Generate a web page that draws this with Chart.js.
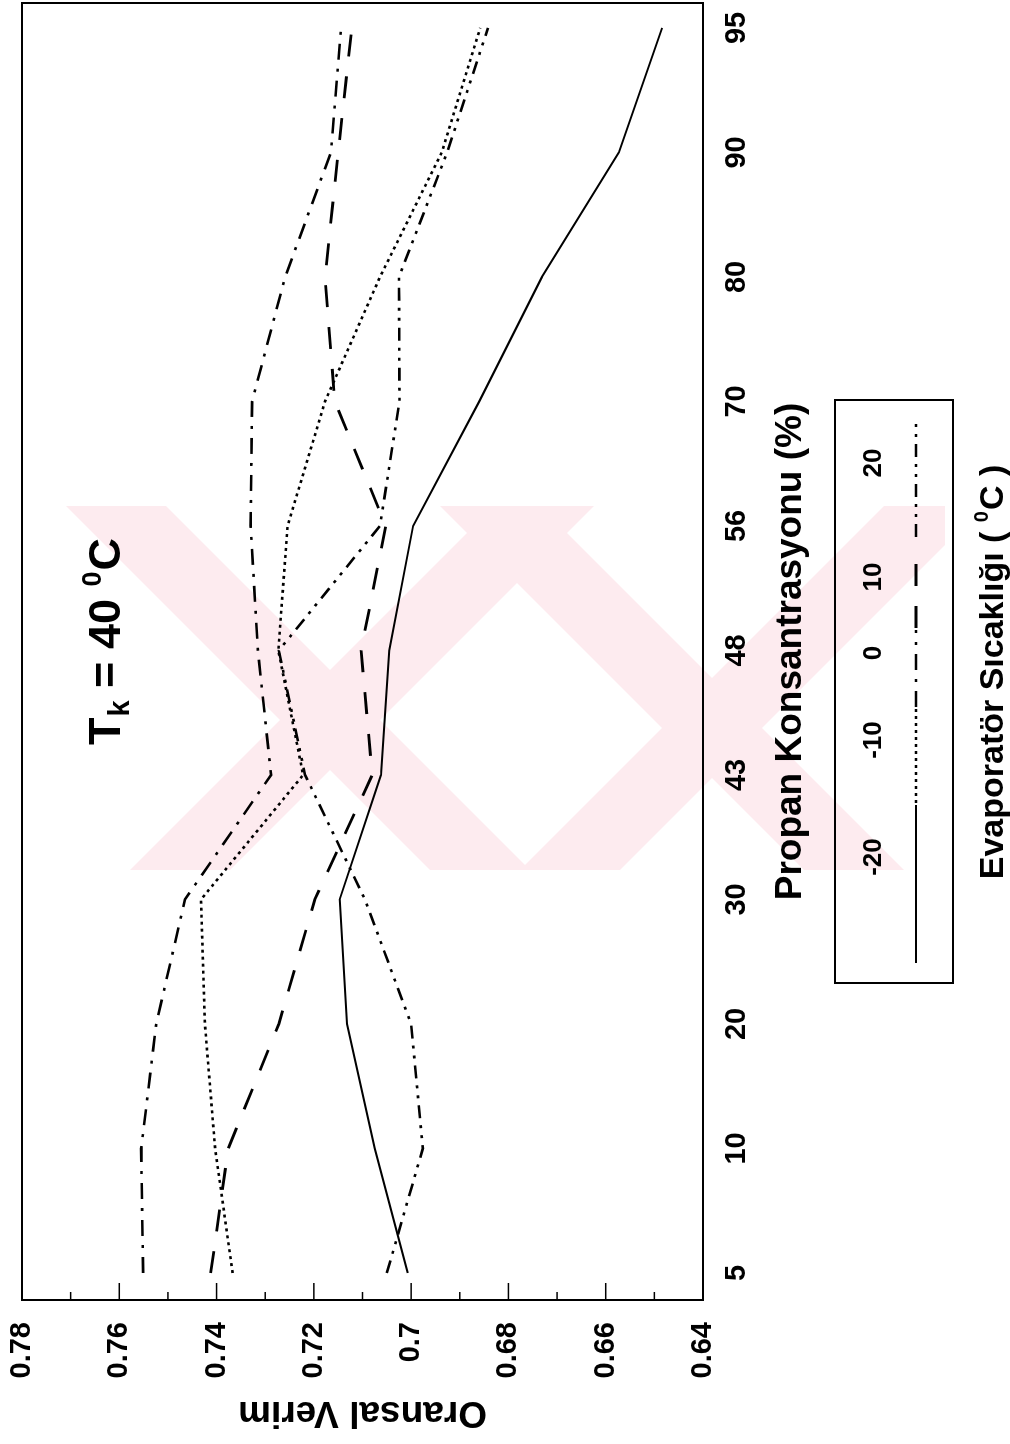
<!DOCTYPE html>
<html><head><meta charset="utf-8">
<script src="https://cdn.jsdelivr.net/npm/chart.js@4.4.0/dist/chart.umd.min.js"></script>
<style>
html,body{margin:0;padding:0;background:#fff;width:1010px;height:1444px;overflow:hidden;}
#wrap{position:absolute;left:0;top:0;width:1444px;height:1010px;transform-origin:0 0;transform:translateY(1444px) rotate(-90deg);}
canvas{display:block;background:#fff;}
</style></head><body>
<div id="wrap"><canvas id="c" width="1444" height="1010"></canvas></div>
<script>
// ---- data ----
const categories = ['5','10','20','30','43','48','56','70','80','90','95'];
const seriesLabels = ['-20','-10','0','10','20'];
const evapM20 = [0.7007, 0.7075, 0.7132, 0.7147, 0.7062, 0.7045, 0.6996, 0.6860, 0.6731, 0.6573, 0.6484];
const evapM10 = [0.7367, 0.7403, 0.7424, 0.7432, 0.7222, 0.7273, 0.7254, 0.7177, 0.7064, 0.6937, 0.6858];
const evap0   = [0.7551, 0.7555, 0.7524, 0.7465, 0.7288, 0.7315, 0.7330, 0.7327, 0.7259, 0.7165, 0.7144];
const evap10  = [0.7412, 0.7376, 0.7272, 0.7198, 0.7080, 0.7103, 0.7052, 0.7157, 0.7177, 0.7150, 0.7122];
const evap20  = [0.7050, 0.6976, 0.7000, 0.7095, 0.7218, 0.7272, 0.7064, 0.7024, 0.7025, 0.6926, 0.6842];
const yTickValues = [0.64, 0.66, 0.68, 0.70, 0.72, 0.74, 0.76, 0.78];
const yTickLabels = ['0.64', '0.66', '0.68', '0.7', '0.72', '0.74', '0.76', '0.78'];
const xTitle = 'Propan Konsantrasyonu (%)';
const yTitle = 'Oransal Verim';
const legendTitle = 'Evaporatör Sıcaklığı';

// ---- styles ----
const FONT = "'Liberation Sans', Arial, sans-serif";
const styles = [
  {borderDash: [], borderWidth: 2},
  {borderDash: [3, 4], borderWidth: 2.6},
  {borderDash: [16, 9, 3, 9], borderWidth: 2.6},
  {borderDash: [22, 20], borderWidth: 2.8},
  {borderDash: [13, 7, 3, 7, 3, 7], borderWidth: 2.6}
];
const allSeries = [evapM20, evapM10, evap0, evap10, evap20];

const datasets = allSeries.map((vals, k) => ({
  label: seriesLabels[k],
  data: categories.map((c, i) => ({x: i, y: vals[i]})),
  borderColor: '#000',
  borderWidth: styles[k].borderWidth,
  borderDash: styles[k].borderDash,
  borderCapStyle: 'butt',
  pointRadius: 0,
  tension: 0,
  fill: false
}));

// image coords (X,Y) -> canvas coords (u,v): u = 1444 - Y, v = X
const img = (X, Y) => [1444 - Y, X];
const watermark = [
  [[66,506],[166,506],[530,870],[430,870]],
  [[130,870],[230,870],[594,506],[494,506]],
  [[440,506],[540,506],[904,870],[804,870]],
  [[520,870],[620,870],[984,506],[884,506]]
];

const decor = {
  id: 'decor',
  beforeDraw(chart) {
    const ctx = chart.ctx;
    ctx.save();
    ctx.beginPath();
    const c0 = img(0, 506), c1 = img(945, 870);
    ctx.rect(Math.min(c0[0], c1[0]), Math.min(c0[1], c1[1]), Math.abs(c1[0]-c0[0]), Math.abs(c1[1]-c0[1]));
    ctx.clip();
    ctx.fillStyle = 'rgb(253,235,239)';
    watermark.forEach(poly => {
      ctx.beginPath();
      poly.forEach((p, i) => { const q = img(p[0], p[1]); i ? ctx.lineTo(q[0], q[1]) : ctx.moveTo(q[0], q[1]); });
      ctx.closePath();
      ctx.fill();
    });
    ctx.restore();
  },
  afterDraw(chart) {
    const ctx = chart.ctx, a = chart.chartArea, ys = chart.scales.y;
    ctx.save();
    ctx.strokeStyle = '#000';
    ctx.fillStyle = '#000';
    // frame
    ctx.lineWidth = 2;
    ctx.strokeRect(a.left, a.top, a.right - a.left, a.bottom - a.top);
    // inward ticks on value axis (major + minor)
    ctx.lineWidth = 1.5;
    for (let i = 0; i < yTickValues.length; i++) {
      const p = ys.getPixelForValue(yTickValues[i]);
      ctx.beginPath(); ctx.moveTo(a.left, p); ctx.lineTo(a.left + 17, p); ctx.stroke();
      if (i < yTickValues.length - 1) {
        const pm = ys.getPixelForValue((yTickValues[i] + yTickValues[i+1]) / 2);
        ctx.beginPath(); ctx.moveTo(a.left, pm); ctx.lineTo(a.left + 8, pm); ctx.stroke();
      }
    }
    // T_k = 40 oC annotation
    ctx.textAlign = 'left'; ctx.textBaseline = 'alphabetic';
    let u = 699; const vb = 120;
    ctx.font = 'bold 45px ' + FONT; ctx.fillText('T', u, vb); u += ctx.measureText('T').width + 1;
    ctx.font = 'bold 29px ' + FONT; ctx.fillText('k', u, vb + 9); u += ctx.measureText('k').width;
    ctx.font = 'bold 45px ' + FONT; ctx.fillText(' = 40 ', u, vb); u += ctx.measureText(' = 40 ').width;
    ctx.font = 'bold 27px ' + FONT; ctx.fillText('0', u, vb - 19); u += ctx.measureText('0').width + 1;
    ctx.font = 'bold 45px ' + FONT; ctx.fillText('C', u, vb);
    // legend box
    ctx.lineWidth = 2;
    ctx.strokeRect(461, 835, 583, 118);
    const labelU = [587, 704, 791, 867, 981];
    const sampleU = [[481, 639], [641, 736], [737, 814], [816, 897], [907, 1024]];
    ctx.font = 'bold 26px ' + FONT; ctx.textAlign = 'center'; ctx.textBaseline = 'middle';
    chart.data.datasets.forEach((ds, k) => {
      ctx.fillText(ds.label, labelU[k], 874);
      ctx.save();
      ctx.lineWidth = ds.borderWidth; ctx.setLineDash(ds.borderDash); ctx.lineCap = 'butt';
      ctx.beginPath(); ctx.moveTo(sampleU[k][0], 916); ctx.lineTo(sampleU[k][1], 916); ctx.stroke();
      ctx.restore();
    });
    // legend title with superscript degree
    ctx.textAlign = 'left'; ctx.textBaseline = 'alphabetic';
    const f1 = 'bold 34px ' + FONT, f2 = 'bold 20px ' + FONT;
    const p1 = legendTitle + ' ( ', p3 = 'C )';
    ctx.font = f1; const w1 = ctx.measureText(p1).width, w3 = ctx.measureText(p3).width;
    ctx.font = f2; const w2 = ctx.measureText('0').width + 1;
    let x = 772 - (w1 + w2 + w3) / 2; const base = 1003;
    ctx.font = f1; ctx.fillText(p1, x, base); x += w1;
    ctx.font = f2; ctx.fillText('0', x, base - 15); x += w2;
    ctx.font = f1; ctx.fillText(p3, x, base);
    ctx.restore();
  }
};

new Chart(document.getElementById('c'), {
  type: 'line',
  data: {datasets},
  options: {
    responsive: false,
    animation: false,
    devicePixelRatio: 1,
    layout: {padding: {top: 22, right: 3, bottom: 197, left: 0}},
    plugins: {legend: {display: false}, tooltip: {enabled: false}},
    scales: {
      x: {
        type: 'linear', min: -0.217, max: 10.2, position: 'bottom',
        afterBuildTicks: s => { s.ticks = categories.map((c, i) => ({value: i})); },
        afterFit: s => { s.height = 110; s.paddingLeft = 0; s.paddingRight = 0; },
        grid: {display: false, drawTicks: false},
        border: {display: false},
        ticks: {
          callback: v => categories[v],
          font: {family: FONT, size: 29, weight: 'bold'}, color: '#000',
          padding: 17, maxRotation: 0, autoSkip: false
        },
        title: {display: true, text: xTitle, color: '#000',
          font: {family: FONT, size: 37, weight: 'bold'}, padding: {top: 0, bottom: 0}}
      },
      y: {
        type: 'linear', min: 0.64, max: 0.78,
        afterBuildTicks: s => { s.ticks = yTickValues.map(v => ({value: v})); },
        afterFit: s => { s.width = 144; s.paddingTop = 0; s.paddingBottom = 0; },
        grid: {display: false, drawTicks: false},
        border: {display: false},
        ticks: {
          callback: (v, i) => yTickLabels[i],
          font: {family: FONT, size: 29, weight: 'bold'}, color: '#000', padding: 22
        },
        title: {display: true, text: yTitle, color: '#000',
          font: {family: FONT, size: 37, weight: 'bold'}, padding: {top: 10, bottom: 0}}
      }
    }
  },
  plugins: [decor]
});
</script>
</body></html>
